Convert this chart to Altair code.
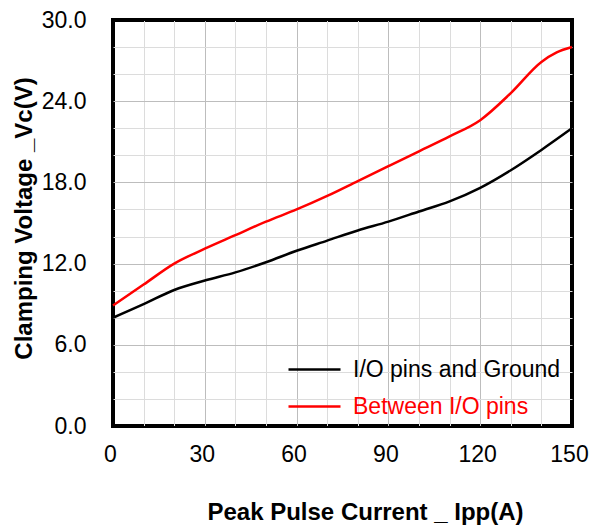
import altair as alt
import pandas as pd

# ---- data ----
series_names = ["I/O pins and Ground", "Between I/O pins"]
series_colors = ["#000000", "#ff0000"]

ipp_ground = [0, 10, 20, 30, 40, 50, 60, 70, 80, 90, 100, 110, 120, 130, 140, 150]
vc_ground = [8.0, 9.0, 10.05, 10.75, 11.35, 12.1, 12.95, 13.7, 14.45, 15.1, 15.85, 16.6, 17.6, 18.9, 20.4, 22.0]

ipp_between = [0, 10, 20, 30, 40, 50, 60, 70, 80, 90, 100, 110, 120, 130, 140, 145, 150]
vc_between = [8.9, 10.45, 12.0, 13.1, 14.1, 15.1, 16.0, 17.0, 18.1, 19.2, 20.3, 21.4, 22.6, 24.6, 26.9, 27.6, 28.0]

x_ticks = list(range(0, 151, 10))
y_ticks = list(range(0, 31, 2))

df = pd.concat([
    pd.DataFrame({"ipp": ipp_ground, "vc": vc_ground, "series": series_names[0]}),
    pd.DataFrame({"ipp": ipp_between, "vc": vc_between, "series": series_names[1]}),
])

FONT = "Liberation Sans"

x_axis = alt.Axis(
    values=x_ticks,
    labelExpr="datum.value % 30 == 0 ? datum.label : ''",
    labelOverlap=False, labelFlush=False, labelBound=False,
    labelFontSize=23, labelFont=FONT, labelColor="#000000",
    labelPadding=17, labelOffset=-3,
    ticks=False, domain=False,
    grid=True,
    gridColor={"condition": [
        {"test": "datum.value == 0 || datum.value == 150", "value": "#000000"},
        {"test": "datum.value % 30 == 0", "value": "#bdbdbd"},
    ], "value": "#dcdcdc"},
    gridWidth=1,
    title="Peak Pulse Current _ Ipp(A)",
    titleFont=FONT, titleFontSize=24, titleFontWeight="bold", titleColor="#000000",
    titleX=252, titleY=86, titleAlign="center", titleBaseline="middle",
)

y_axis = alt.Axis(
    values=y_ticks,
    labelExpr="datum.value % 6 == 0 ? format(datum.value, '.1f') : ''",
    labelOverlap=False, labelFlush=False, labelBound=False,
    labelFontSize=23, labelFont=FONT, labelColor="#000000",
    labelPadding=27,
    ticks=False, domain=False,
    grid=True,
    gridColor={"condition": [
        {"test": "datum.value == 0 || datum.value == 30", "value": "#000000"},
        {"test": "datum.value % 6 == 0", "value": "#bdbdbd"},
    ], "value": "#dcdcdc"},
    gridWidth=1,
    title="Clamping Voltage _Vc(V)",
    titleFont=FONT, titleFontSize=24, titleFontWeight="bold", titleColor="#000000",
    titleAngle=270, titleX=-89, titleY=198, titleAlign="center", titleBaseline="middle",
)

legend = alt.Legend(
    title=None, orient="none", legendX=174, legendY=331,
    symbolType="stroke", symbolSize=2704, symbolStrokeWidth=2.5,
    labelFont=FONT, labelFontSize=23, labelOffset=11, labelLimit=400,
    labelColor=alt.ExprRef("datum.label == 'Between I/O pins' ? '#ff0000' : '#000000'"),
    clipHeight=37, rowPadding=0, padding=0,
)

chart = alt.Chart(df).mark_line(strokeWidth=2.5, interpolate="monotone").encode(
    x=alt.X("ipp:Q", scale=alt.Scale(domain=[0, 150], nice=False, zero=False), axis=x_axis),
    y=alt.Y("vc:Q", scale=alt.Scale(domain=[0, 30], nice=False), axis=y_axis),
    color=alt.Color("series:N", scale=alt.Scale(domain=series_names, range=series_colors), legend=legend),
    order=alt.Order("ipp:Q"),
).properties(
    width=459, height=406,
    autosize=alt.AutoSizeParams(type="none"),
    padding={"left": 113, "top": 20, "right": 17, "bottom": 103},
).configure(
    background="#ffffff",
    view=alt.ViewConfig(stroke="#000000", strokeWidth=4),
)

chart.save("out.html", embed_options={"renderer": "svg", "actions": False})
